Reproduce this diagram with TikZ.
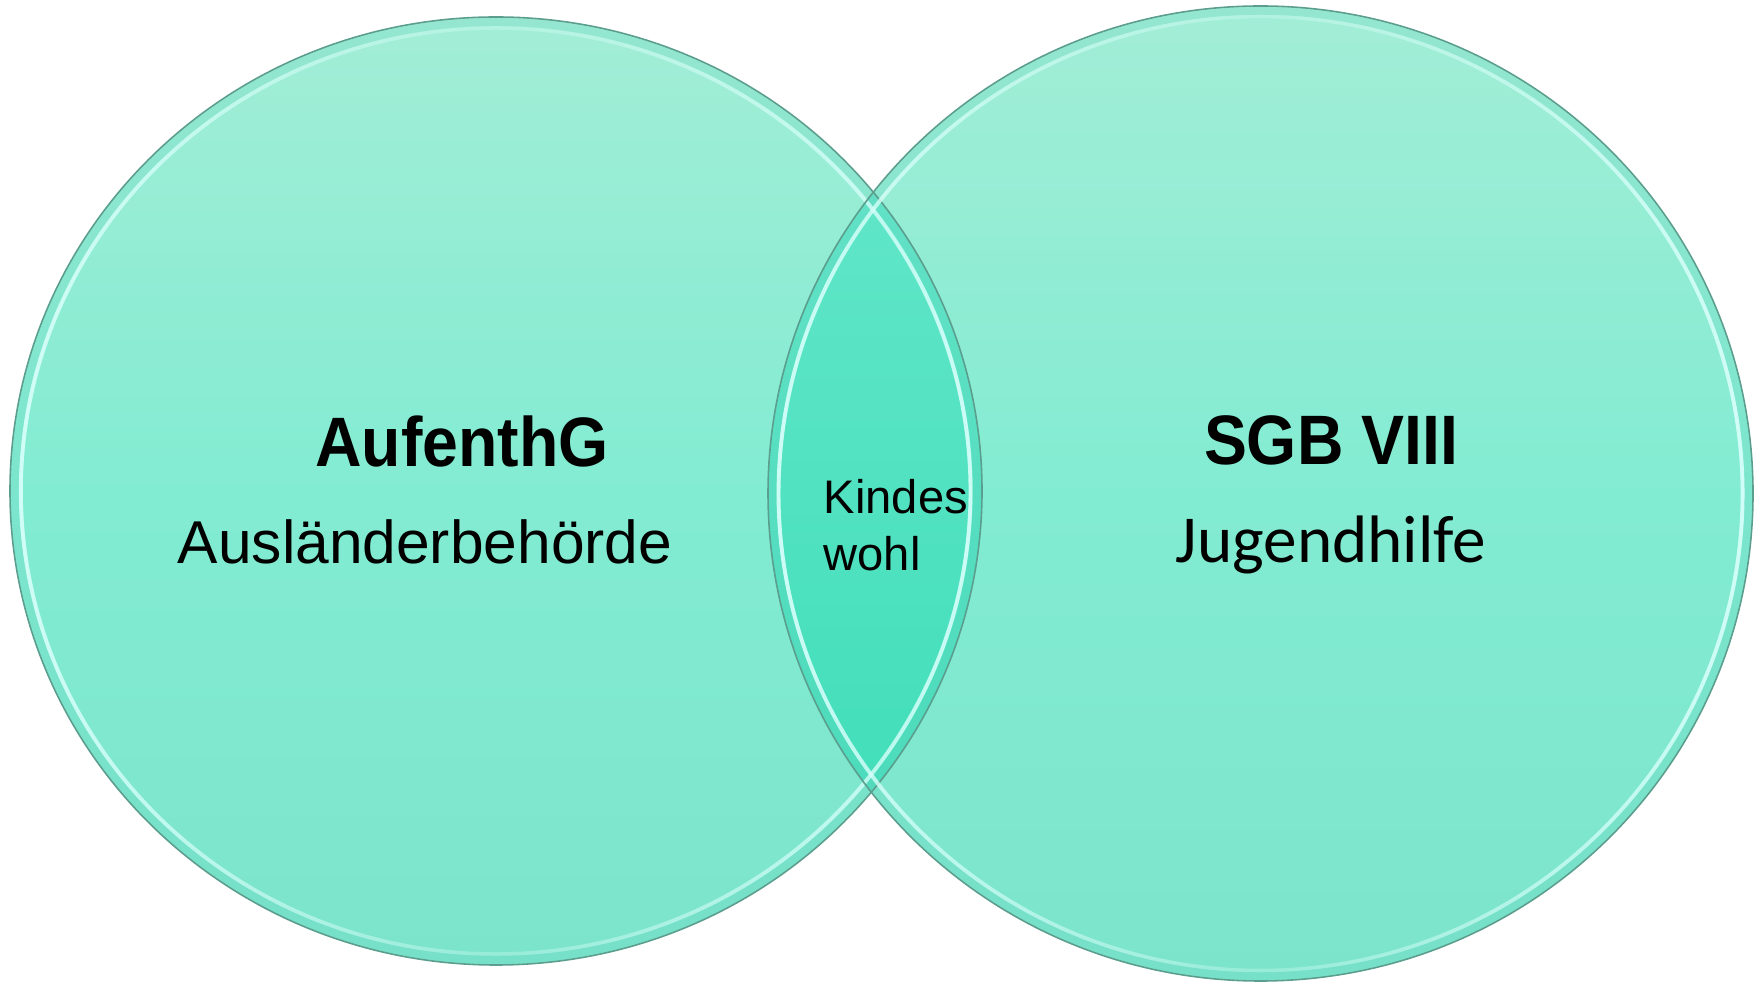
\documentclass[tikz,border=0pt]{standalone}
\usepackage{fontspec}
\usetikzlibrary{fadings}
\setmainfont{Liberation Sans}
\newfontfamily\boldnarrow[FakeStretch=0.92]{Liberation Sans}
\newfontfamily\calibrilike{Carlito}
\definecolor{circtop}{RGB}{163,237,214}
\definecolor{circmid}{RGB}{130,236,210}
\definecolor{circbot}{RGB}{124,228,203}
\definecolor{lenstop}{RGB}{96,230,200}
\definecolor{lensmid}{RGB}{60,226,188}
\definecolor{lensbot}{RGB}{66,222,186}
\definecolor{rimdark}{RGB}{92,158,142}
\definecolor{rimlight}{RGB}{215,255,250}
\tikzfading[name=sidefade, left color=transparent!0, right color=transparent!0, middle color=transparent!100]
\tikzset{
  ellL/.style={insert path={(496,491) ellipse [x radius=486, y radius=474]}},
  ellLin/.style={insert path={(496,491) ellipse [x radius=475, y radius=463]}},
  ellR/.style={insert path={(1260.5,488.5) ellipse [x radius=492.5, y radius=487.5]}},
  ellRin/.style={insert path={(1260.5,488.5) ellipse [x radius=482, y radius=477]}},
  circshade/.style={top color=circtop, bottom color=circbot, middle color=circmid},
  rimout/.style={draw=rimdark, line width=0.45pt},
  rimhi/.style={draw=rimlight, draw opacity=0.3, line width=1.0pt},
  rimhistrong/.style={draw=rimlight, draw opacity=0.9, line width=1.1pt, path fading=sidefade},
  rimband/.style={draw=circbot!85!teal, draw opacity=0.25, line width=2.2pt},
  bigtitle/.style={font=\boldnarrow\bfseries\fontsize{19.9}{24}\selectfont, text=black, inner sep=0pt, anchor=base},
  subtitle/.style={font=\fontsize{17.2}{20}\selectfont, text=black, inner sep=0pt, anchor=base},
  lenstext/.style={font=\fontsize{13.4}{16}\selectfont, text=black, inner sep=0pt, anchor=base west}
}
\begin{document}
\begin{tikzpicture}[x=0.01cm, y=0.01cm]
\useasboundingbox (0,0) rectangle (1755,982);
% circles
\shade[circshade, ellL];
\shade[circshade, ellR];
% lens
\begin{scope}
  \clip[ellL];
  \clip[ellR];
  \shade[top color=lenstop, middle color=lensmid, bottom color=lensbot] (700,180) rectangle (1000,800);
\end{scope}
% rims
\path[rimband] (496,491) ellipse [x radius=481, y radius=469];
\path[rimband] (1260.5,488.5) ellipse [x radius=487.5, y radius=482.5];
\path[rimout, ellL];
\path[rimhi, ellLin];
\path[rimhistrong, ellLin];
\path[rimout, ellR];
\path[rimhi, ellRin];
\path[rimhistrong, ellRin];
% texts
\node[bigtitle] (aufenthg) at (462,515) {AufenthG};
\node[subtitle] (auslaender) at (425,418) {Ausländerbehörde};
\node[bigtitle] (sgb) at (1331,517) {SGB VIII};
\node[subtitle, font=\calibrilike\fontsize{19.1}{22}\selectfont] (jugend) at (1331,419) {Jugendhilfe};
\node[lenstext] (kindes) at (823,468) {Kindes};
\node[lenstext] (wohl) at (823,411) {wohl};
\end{tikzpicture}
\end{document}
